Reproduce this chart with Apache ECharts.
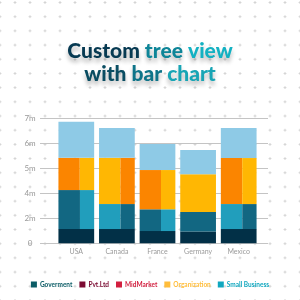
<!DOCTYPE html>
<html>
<head>
<meta charset="utf-8">
<script src="https://cdn.jsdelivr.net/npm/echarts@6/dist/echarts.min.js"></script>
<style>
  html, body { margin: 0; padding: 0; }
  body {
    background-color: #fff;
    background-image: radial-gradient(circle, #cdcdcd 0.9px, transparent 1.3px);
    background-size: 15px 14.2px;
    background-position: 7.5px 9.6px;
  }
  #chart { width: 300px; height: 300px; }
</style>
</head>
<body>
<div id="chart"></div>
<script>
// values in grid steps, bottom level first
var categories = ['USA', 'Canada', 'France', 'Germany', 'Mexico'];
var navy      = [0.57, 0.57, 0.49, 0.47, 0.57];
var darkTeal  = [0.94, 0.40, 0.52, 0.78, 0.40];
var lightTeal = [0.62, 0.60, 0.35, 0, 0.60];
var orange    = [0.77, 0.74, 0.94, 0, 1.10];
var yellow    = [0.52, 1.11, 0.63, 1.51, 0.74];
var skyBlue   = [1.44, 1.19, 1.04, 0.97, 1.20];
var tickLabels = ['0', '2m', '4m', '5m', '6m', '7m'];
var legendNames = ['Goverment', 'Pvt.Ltd', 'MidMarket', 'Organization', 'Small Business'];
var legendColors = ['#0b5c66', '#7b0b32', '#d21f3f', '#ffbd3b', '#10a7bf'];

var colors = {
    navy: '#023047',
    darkTeal: '#126782',
    lightTeal: '#219ebc',
    orange: '#fb8500',
    yellow: '#ffb703',
    skyBlue: '#8ecae6'
};

function renderItem(params, api) {
    var i = params.dataIndex;
    var w = api.size([1, 0])[0] * 0.88;
    var x0 = api.coord([i, 0])[0] - w / 2;
    var levels = [
        [[navy[i], colors.navy]],
        [[darkTeal[i], colors.darkTeal], [lightTeal[i], colors.lightTeal]],
        [[orange[i], colors.orange], [yellow[i], colors.yellow]],
        [[skyBlue[i], colors.skyBlue]]
    ];
    var children = [];
    var base = 0;
    levels.forEach(function (parts) {
        var total = 0;
        parts.forEach(function (p) { total += p[0]; });
        if (!total) return;
        // bigger part goes on the left, like a treemap
        parts = parts.filter(function (p) { return p[0] > 0; })
                     .sort(function (a, b) { return b[0] - a[0]; });
        var yTop = api.coord([i, base + total])[1];
        var yBot = api.coord([i, base])[1];
        var x = x0;
        parts.forEach(function (p) {
            var pw = w * p[0] / total;
            children.push({
                type: 'rect',
                shape: { x: x, y: yTop, width: pw, height: yBot - yTop },
                style: { fill: p[1] }
            });
            x += pw;
        });
        base += total;
    });
    return { type: 'group', children: children };
}

var shadow = {
    textShadowColor: 'rgba(0,0,0,0.28)',
    textShadowBlur: 4,
    textShadowOffsetY: 4
};
function word(color) {
    return Object.assign({ color: color, fontSize: 21, fontWeight: 900, fontFamily: 'Lato', lineHeight: 23 }, shadow);
}

var chart = echarts.init(document.getElementById('chart'));
var option = {
    animation: false,
    title: {
        text: '{a|Custom} {b|tree} {c|view}\n{d|with} {e|bar} {f|chart}',
        left: 'center',
        top: 35,
        textStyle: {
            fontSize: 21,
            fontWeight: 900,
            fontFamily: 'Lato',
            lineHeight: 23,
            align: 'center',
            rich: {
                a: word('#073a52'),
                b: word('#0e8598'),
                c: word('#13b1c2'),
                d: word('#0a4d62'),
                e: word('#0e7489'),
                f: word('#18a5b5')
            }
        }
    },
    legend: {
        top: 276,
        left: 'center',
        itemWidth: 6,
        itemHeight: 6,
        itemGap: 7,
        icon: 'rect',
        textStyle: { fontSize: 6.5, fontWeight: 'bold', fontFamily: 'Lato', padding: [0, 0, 0, -2] },
        data: legendNames.map(function (n, k) {
            return { name: n, textStyle: { color: legendColors[k] } };
        })
    },
    grid: [
        { left: 40, right: 32, top: 118.3, height: 125 },
        { left: 56, right: 41, top: 118.3, height: 125 }
    ],
    xAxis: [
        { gridIndex: 0, type: 'category', data: categories, show: false },
        {
            gridIndex: 1,
            type: 'category',
            data: categories,
            axisLine: { show: false },
            axisTick: { show: false },
            axisLabel: { color: '#9a9a9a', fontSize: 7, fontFamily: 'Lato', margin: 5 }
        }
    ],
    yAxis: [
        {
            gridIndex: 0,
            type: 'value',
            min: 0,
            max: 5,
            interval: 1,
            axisLine: { show: false },
            axisTick: { show: false },
            splitLine: { lineStyle: { color: '#c4c4c4', width: 1 } },
            axisLabel: {
                color: '#999',
                fontSize: 8,
                fontFamily: 'Lato',
                align: 'center',
                margin: 10,
                formatter: function (v) { return tickLabels[v]; }
            }
        },
        { gridIndex: 1, type: 'value', min: 0, max: 5, show: false }
    ],
    series: [
        {
            type: 'custom',
            xAxisIndex: 1,
            yAxisIndex: 1,
            renderItem: renderItem,
            data: categories.map(function (c, i) {
                return [i, navy[i] + darkTeal[i] + lightTeal[i] + orange[i] + yellow[i] + skyBlue[i]];
            })
        }
    ].concat(legendNames.map(function (n, k) {
        return {
            name: n,
            type: 'bar',
            xAxisIndex: 1,
            yAxisIndex: 1,
            data: [],
            itemStyle: { color: legendColors[k] }
        };
    }))
};
chart.setOption(option);
</script>
</body>
</html>
